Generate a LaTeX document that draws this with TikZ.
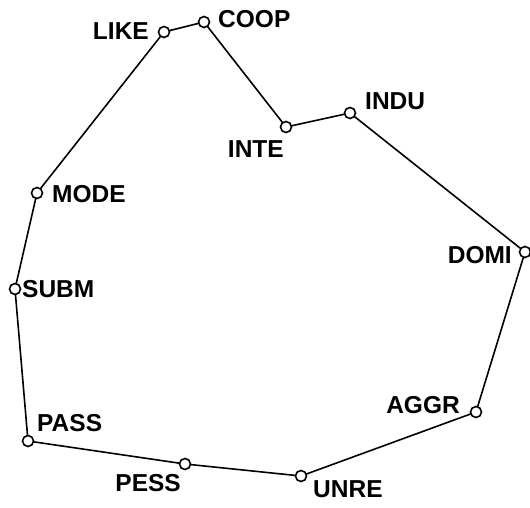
\documentclass[tikz,border=0pt]{standalone}
\usepackage{fontspec}
\setmainfont{Liberation Sans}
\begin{document}
\begin{tikzpicture}[x=1pt,y=-1pt,
  pt/.style={circle,draw,fill=white,line width=1.6pt,minimum size=11pt,inner sep=0pt},
  lbl/.style={font=\fontsize{24.5}{24.5}\selectfont\bfseries,inner sep=0pt}]
\useasboundingbox (0,0) rectangle (530,508);
\coordinate (LIKE) at (164,32);
\coordinate (COOP) at (204,22);
\coordinate (INTE) at (286,127);
\coordinate (INDU) at (350,113);
\coordinate (DOMI) at (525,252);
\coordinate (AGGR) at (476,412);
\coordinate (UNRE) at (301,476);
\coordinate (PESS) at (185,464);
\coordinate (PASS) at (28,441);
\coordinate (SUBM) at (15,289);
\coordinate (MODE) at (37,193);
\draw[line width=1.6pt] (LIKE) -- (COOP) -- (INTE) -- (INDU) -- (DOMI) -- (AGGR) -- (UNRE) -- (PESS) -- (PASS) -- (SUBM) -- (MODE) -- cycle;
\foreach \n in {LIKE,COOP,INTE,INDU,DOMI,AGGR,UNRE,PESS,PASS,SUBM,MODE}
  \node[pt] (c\n) at (\n) {};
\node[lbl,anchor=east] (tLIKE) at (149,31) {LIKE};
\node[lbl,anchor=west] (tCOOP) at (218,19) {COOP};
\node[lbl,anchor=north east] (tINTE) at (284,140) {INTE};
\node[lbl,anchor=west] (tINDU) at (365,101) {INDU};
\node[lbl,anchor=east] (tDOMI) at (512,255) {DOMI};
\node[lbl,anchor=east] (tAGGR) at (460,405) {AGGR};
\node[lbl,anchor=north west] (tUNRE) at (313,480) {UNRE};
\node[lbl,anchor=north east] (tPESS) at (181,474) {PESS};
\node[lbl,anchor=west] (tPASS) at (37,423) {PASS};
\node[lbl,anchor=west] (tSUBM) at (22,289) {SUBM};
\node[lbl,anchor=west] (tMODE) at (52,194) {MODE};
\end{tikzpicture}
\end{document}
